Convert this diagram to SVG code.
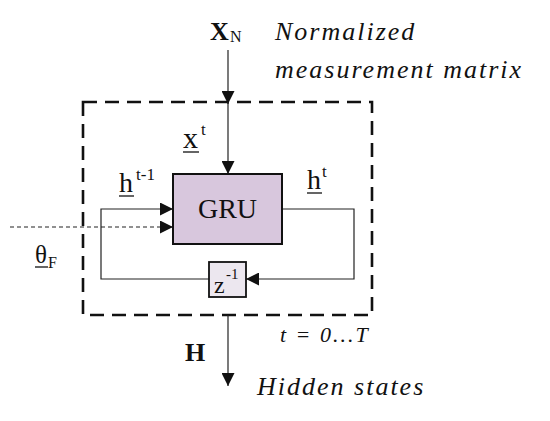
<svg xmlns="http://www.w3.org/2000/svg" width="550" height="421" viewBox="0 0 550 421">
<style>
.ln{fill:none;stroke:#222;stroke-width:1.2}
.t{font-family:"Liberation Serif","Times New Roman",serif;fill:#111}
.it{font-family:"Liberation Serif","Times New Roman",serif;font-style:italic;letter-spacing:2px}
.ul{stroke:#111;stroke-width:1.3}
</style>
<defs>
<marker id="ah" markerUnits="userSpaceOnUse" markerWidth="13" markerHeight="13" refX="13" refY="6.5" orient="auto">
<path d="M0,0 L13,6.5 L0,13 z" fill="#111"/>
</marker>
</defs>
<rect width="550" height="421" fill="#fff"/>
<g id="frame">
<rect x="83" y="102" width="289" height="213" fill="none" stroke="#111" stroke-width="2.6" stroke-dasharray="14 8"/>
<text class="t it" x="280" y="342" font-size="22">t = 0...T</text>
</g>
<g id="connectors">
<line class="ln" x1="228" y1="50" x2="228" y2="104" marker-end="url(#ah)"/>
<line class="ln" x1="228" y1="102" x2="228" y2="174" marker-end="url(#ah)"/>
<polyline class="ln" points="209,279 101,279 101,209 173,209" marker-end="url(#ah)"/>
<line x1="10" y1="227" x2="173" y2="227" stroke="#222" stroke-width="1.2" stroke-dasharray="4 3" marker-end="url(#ah)"/>
<polyline class="ln" points="282,209 354,209 354,279 246,279" marker-end="url(#ah)"/>
<line class="ln" x1="228" y1="315" x2="228" y2="386" marker-end="url(#ah)"/>
</g>
<g id="input">
<text class="t" x="210" y="40" font-size="26" font-weight="bold">X</text>
<text class="t" x="230" y="42" font-size="16">N</text>
<text class="t it" x="275" y="40" font-size="26">Normalized</text>
<text class="t it" x="275" y="78" font-size="26">measurement matrix</text>
</g>
<g id="xt">
<text class="t" x="183" y="148" font-size="30">x</text>
<text class="t" x="201" y="135" font-size="17">t</text>
<line class="ul" x1="183" y1="152" x2="199" y2="152"/>
</g>
<g id="ht1">
<text class="t" x="119" y="192" font-size="28">h</text>
<text class="t" x="136" y="180" font-size="17">t-1</text>
<line class="ul" x1="119" y1="196" x2="134" y2="196"/>
</g>
<g id="ht">
<text class="t" x="307" y="189" font-size="28">h</text>
<text class="t" x="322" y="177" font-size="17">t</text>
<line class="ul" x1="307" y1="193" x2="322" y2="193"/>
</g>
<g id="theta">
<text class="t" x="35" y="263" font-size="25">θ</text>
<text class="t" x="48" y="268" font-size="16">F</text>
<line class="ul" x1="35" y1="267" x2="48" y2="267"/>
</g>
<g id="gru">
<rect x="173" y="174" width="109" height="70" fill="#d8c7dd" stroke="#111" stroke-width="2"/>
<text class="t" x="227.5" y="218" font-size="28" text-anchor="middle">GRU</text>
</g>
<g id="delay">
<rect x="209" y="262" width="37" height="35" fill="#ece7ef" stroke="#111" stroke-width="1.8"/>
<text class="t" x="214" y="293" font-size="24">z</text>
<text class="t" x="226" y="279" font-size="15">-1</text>
</g>
<g id="output">
<text class="t" x="185" y="361" font-size="26" font-weight="bold">H</text>
<text class="t it" x="257" y="395" font-size="26">Hidden states</text>
</g>
</svg>
